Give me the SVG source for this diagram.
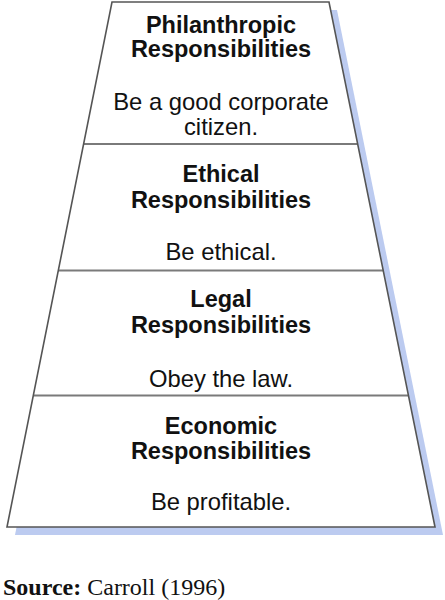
<svg xmlns="http://www.w3.org/2000/svg" width="445" height="600" viewBox="0 0 445 600">
  <style>
    .title { font-family: "Liberation Sans", Arial, sans-serif; font-size: 23.5px; font-weight: bold; fill: #111; text-anchor: middle; }
    .body { font-family: "Liberation Sans", Arial, sans-serif; font-size: 23.8px; fill: #111; text-anchor: middle; }
    .tier { fill: #ffffff; stroke: none; }
    .outline { fill: none; stroke: #555555; stroke-width: 1.6; stroke-linejoin: miter; }
    .divider { stroke: #7a7a7a; stroke-width: 2; }
    .src { font-family: "Liberation Serif", "Times New Roman", serif; font-size: 24px; fill: #111; }
  </style>
  <rect width="445" height="600" fill="#ffffff"/>
  <polygon id="shadow" points="120,10 337,10 443,535 15,535" fill="#bccbf0"/>

  <g id="philanthropic">
    <polygon class="tier" points="112,2 329,2 357.7,144 83.6,144"/>
    <text class="title" x="221" y="33">Philanthropic</text>
    <text class="title" x="221" y="57">Responsibilities</text>
    <text class="body" x="221" y="110">Be a good corporate</text>
    <text class="body" x="221" y="135">citizen.</text>
  </g>

  <g id="ethical">
    <polygon class="tier" points="83.6,144 357.7,144 383.2,270.5 58.3,270.5"/>
    <text class="title" x="221" y="182">Ethical</text>
    <text class="title" x="221" y="208">Responsibilities</text>
    <text class="body" x="221" y="260">Be ethical.</text>
  </g>

  <g id="legal">
    <polygon class="tier" points="58.3,270.5 383.2,270.5 408.5,395.5 33.3,395.5"/>
    <text class="title" x="221" y="307">Legal</text>
    <text class="title" x="221" y="333">Responsibilities</text>
    <text class="body" x="221" y="387">Obey the law.</text>
  </g>

  <g id="economic">
    <polygon class="tier" points="33.3,395.5 408.5,395.5 435,527 7,527"/>
    <text class="title" x="221" y="434">Economic</text>
    <text class="title" x="221" y="459">Responsibilities</text>
    <text class="body" x="221" y="510">Be profitable.</text>
  </g>

  <g id="connectors">
    <line class="divider" x1="83.6" y1="144" x2="357.7" y2="144"/>
    <line class="divider" x1="58.3" y1="270.5" x2="383.2" y2="270.5"/>
    <line class="divider" x1="33.3" y1="395.5" x2="408.5" y2="395.5"/>
    <polygon class="outline" points="112,2 329,2 435,527 7,527"/>
  </g>

  <text class="src" x="3" y="595"><tspan font-weight="bold">Source:</tspan> Carroll (1996)</text>
</svg>
